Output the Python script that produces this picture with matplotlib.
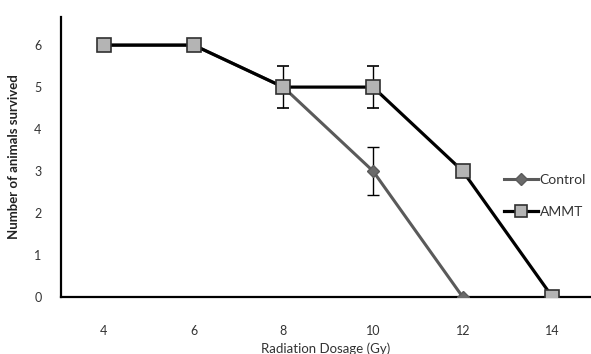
import numpy as np
import matplotlib
matplotlib.use("Agg")
import matplotlib.pyplot as plt
from matplotlib.lines import Line2D

plt.rcParams['font.family'] = ['Lato', 'DejaVu Sans']

doses = ['4', '6', '8', '10', '12', '14']
control = [6, 6, 5, 3, 0, np.nan]
control_err = [0, 0, 0, 0.58, 0, 0]
ammt = [6, 6, 5, 5, 3, 0]
ammt_err = [0, 0, 0.5, 0.5, 0, 0]

x = np.arange(len(doses))

fig = plt.figure(figsize=(5.91, 3.54), dpi=100)
ax = fig.add_axes([0.103, 0.161, 0.897, 0.791])

c_style = dict(color='#5a5a5a', lw=2.2, marker='D', ms=6, mfc='#6a6a6a', mec='#5a5a5a')
a_style = dict(color='black', lw=2.3, marker='s', ms=10.5, mfc='#b4b4b4', mec='#303030', mew=1.2)

cerr = np.array(control_err)
ax.errorbar(x, control, yerr=np.where(cerr > 0, cerr, np.nan), **c_style,
            ecolor='black', elinewidth=1, capsize=4, capthick=1, zorder=3)
aerr = np.array(ammt_err)
ax.errorbar(x, ammt, yerr=np.where(aerr > 0, aerr, np.nan), **a_style,
            ecolor='black', elinewidth=1, capsize=4, capthick=1, zorder=4)

ax.set_xlim(-0.48, 5.43)
ax.set_ylim(0, 6.67)
ax.set_xticks(x)
ax.set_xticklabels(doses)
ax.set_yticks(range(7))
ax.tick_params(length=0, labelsize=9, colors='#333333')
ax.tick_params(axis='x', pad=20)
ax.tick_params(axis='y', pad=14)
for s in ['top', 'right']:
    ax.spines[s].set_visible(False)
for s in ['left', 'bottom']:
    ax.spines[s].set_linewidth(1.6)
    ax.spines[s].set_color('black')

ax.set_xlabel('Radiation Dosage (Gy)', fontsize=9.5, color='#333333', labelpad=4)
ax.set_ylabel('Number of animals survived', fontsize=9.5, fontweight='bold', color='#222222', labelpad=10)

handles = [Line2D([], [], **c_style), Line2D([], [], **{**a_style, 'ms': 8})]
leg = ax.legend(handles, ['Control', 'AMMT'], loc='center left', bbox_to_anchor=(0.813, 0.36),
                frameon=False, fontsize=10, handlelength=2.4, handletextpad=0.15, labelspacing=1.45)
for t in leg.get_texts():
    t.set_color('#333333')

fig.savefig('out.png', dpi=100)
